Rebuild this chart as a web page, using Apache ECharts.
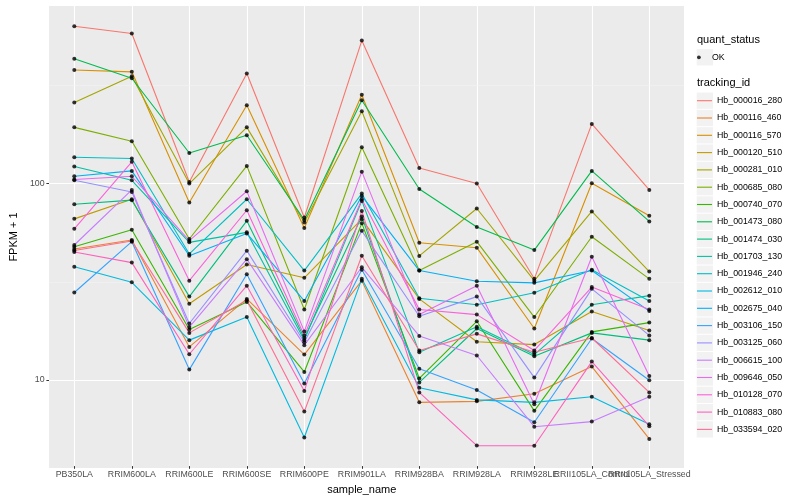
<!DOCTYPE html>
<html><head><meta charset="utf-8">
<script src="https://cdn.jsdelivr.net/npm/echarts@6/dist/echarts.min.js"></script>
<style>html,body{margin:0;padding:0;background:#fff}#c{width:800px;height:500px}</style>
</head><body><div id="c"></div>
<script>
const categories = ['PB350LA','RRIM600LA','RRIM600LE','RRIM600SE','RRIM600PE','RRIM901LA','RRIM928BA','RRIM928LA','RRIM928LE','RRII105LA_Control','RRII105LA_Stressed'];
const trackingIds = ['Hb_000016_280','Hb_000116_460','Hb_000116_570','Hb_000120_510','Hb_000281_010','Hb_000685_080','Hb_000740_070','Hb_001473_080','Hb_001474_030','Hb_001703_130','Hb_001946_240','Hb_002612_010','Hb_002675_040','Hb_003106_150','Hb_003125_060','Hb_006615_100','Hb_009646_050','Hb_010128_070','Hb_010883_080','Hb_033594_020'];

// FPKM + 1 per sample, one array per tracking_id
const Hb_000016_280 = [631, 579, 101, 362, 66.5, 533, 119, 99.1, 32.3, 200, 91.9];
const Hb_000116_460 = [45.9, 51.0, 14.5, 25.5, 13.25, 31.6, 7.55, 7.64, 8.36, 11.5, 4.91];
const Hb_000116_570 = [377, 369, 79.3, 249, 58.7, 282, 49.4, 46.6, 18.0, 99.4, 67.8];
const Hb_000120_510 = [65.4, 82.4, 24.1, 38.2, 32.7, 65.2, 25.5, 15.4, 14.9, 22.0, 17.6];
const Hb_000281_010 = [257, 350, 99.1, 192, 62.7, 232, 42.3, 73.9, 31.6, 71.4, 35.2];
const Hb_000685_080 = [192, 163, 51.6, 122, 22.5, 152, 35.6, 50.0, 20.6, 53.0, 32.3];
const Hb_000740_070 = [47.1, 57.5, 17.8, 24.6, 10.8, 62.2, 10.0, 19.6, 6.83, 17.3, 19.3];
const Hb_001473_080 = [430, 342, 142, 175, 64.5, 264, 93.0, 59.4, 45.3, 115, 63.5];
const Hb_001474_030 = [77.7, 81.5, 26.2, 63.9, 16.1, 67.3, 9.54, 18.0, 13.0, 17.1, 15.7];
const Hb_001703_130 = [121, 103, 49.6, 55.8, 15.7, 80.8, 13.6, 18.4, 13.25, 23.8, 26.5];
const Hb_001946_240 = [135, 133, 43.3, 82.4, 35.6, 88.1, 25.7, 23.8, 27.4, 35.9, 24.9];
const Hb_002612_010 = [37.2, 31.0, 15.7, 20.6, 4.99, 32.3, 8.97, 7.77, 7.55, 8.07, 5.83];
const Hb_002675_040 = [108, 115, 42.4, 55.1, 24.9, 85.7, 35.6, 31.4, 30.8, 35.6, 22.1];
const Hb_003106_150 = [27.5, 50.0, 11.1, 34.1, 9.43, 35.9, 11.2, 8.74, 5.97, 16.0, 9.80];
const Hb_003125_060 = [103, 89.8, 19.1, 45.0, 15.3, 56.8, 20.8, 26.2, 10.1, 28.7, 16.6];
const Hb_006615_100 = [48.1, 91.9, 18.3, 40.7, 14.8, 37.0, 16.5, 13.1, 5.67, 6.02, 8.07];
const Hb_009646_050 = [104, 108, 50.6, 90.5, 17.4, 114, 21.2, 29.8, 7.38, 41.9, 10.3];
const Hb_010128_070 = [58.2, 128, 31.6, 72.4, 16.6, 82.4, 22.5, 21.2, 13.9, 29.3, 22.5];
const Hb_010883_080 = [44.3, 39.1, 13.3, 29.8, 8.62, 71.8, 8.49, 4.54, 4.53, 12.2, 5.70];
const Hb_033594_020 = [45.1, 50.4, 17.1, 25.1, 6.77, 42.4, 13.9, 16.9, 13.6, 16.1, 8.49];

const seriesValues = [Hb_000016_280, Hb_000116_460, Hb_000116_570, Hb_000120_510, Hb_000281_010, Hb_000685_080, Hb_000740_070, Hb_001473_080, Hb_001474_030, Hb_001703_130, Hb_001946_240, Hb_002612_010, Hb_002675_040, Hb_003106_150, Hb_003125_060, Hb_006615_100, Hb_009646_050, Hb_010128_070, Hb_010883_080, Hb_033594_020];

const yMajorBreaks = [10, 100];
const yMinorBreaks = [31.62, 316.2];
const quantStatus = 'OK';

// styles
const colors = ['#F8766D','#EA8331','#D89000','#C09B00','#A3A500','#7CAE00','#39B600','#00BB4E','#00BF7D','#00C1A3','#00BFC4','#00BAE0','#00B0F6','#35A2FF','#9590FF','#C77CFF','#E76BF3','#FA62DB','#FF62BC','#FF6C91'];
const FONT = '"Liberation Sans", Arial, sans-serif';
const yMin = 3.566, yMax = 800.6;
const legendLeft = 697, legendFirstY = 100.7, legendStep = 17.3;

const lineSeries = trackingIds.map((id, i) => ({
  name: id, type: 'line', xAxisIndex: 1, yAxisIndex: 1,
  data: seriesValues[i], symbol: 'none', showSymbol: false,
  lineStyle: { color: colors[i], width: 1.1 }, itemStyle: { color: colors[i] },
  emphasis: { disabled: true }, z: 2
}));
const pointData = [];
seriesValues.forEach(arr => arr.forEach((v, j) => pointData.push([j, v])));

const graphics = [
  { type: 'text', left: legendLeft, top: 34, style: { text: 'quant_status', fontSize: 11, fill: '#000', fontFamily: FONT } },
  { type: 'text', left: legendLeft, top: 77.5, style: { text: 'tracking_id', fontSize: 11, fill: '#000', fontFamily: FONT } },
  { type: 'rect', shape: { x: legendLeft - 0.3, y: 57.3 - 8.15, width: 16.3, height: 16.3 }, style: { fill: '#F2F2F2' }, z: 0 }
];
trackingIds.forEach((id, i) => {
  graphics.push({ type: 'rect', shape: { x: legendLeft - 0.3, y: legendFirstY + legendStep * i - 8.15, width: 16.3, height: 16.3 }, style: { fill: '#F2F2F2' }, z: 0 });
});

const gridLineSeries = (breaks, color, width) => ({
  type: 'line', name: '_grid', xAxisIndex: 0, yAxisIndex: 0, data: [], silent: true,
  markLine: { silent: true, symbol: 'none', z: 1, animation: false,
    label: { show: false }, emphasis: { disabled: true },
    lineStyle: { color: color, width: width, type: 'solid' },
    data: breaks.map(v => ({ yAxis: v })) }
});

const option = {
  animation: false,
  backgroundColor: '#ffffff',
  textStyle: { fontFamily: FONT },
  grid: [
    { left: 40, right: 116, top: 6, bottom: 32, show: true, backgroundColor: '#EBEBEB', borderWidth: 0 },
    { left: 74.3, right: 150.7, top: 6, bottom: 32 }
  ],
  xAxis: [
    { gridIndex: 0, type: 'value', min: 0, max: 1, show: false },
    { gridIndex: 1, type: 'category', data: categories, boundaryGap: false,
      axisLine: { show: false },
      axisTick: { show: true, length: 2.7, lineStyle: { color: '#333333', width: 1 } },
      axisLabel: { interval: 0, color: '#4D4D4D', fontSize: 8.8, margin: 4, fontFamily: FONT },
      splitLine: { show: true, lineStyle: { color: '#ffffff', width: 1.1 } },
      name: 'sample_name', nameLocation: 'middle', nameGap: 13.5,
      nameTextStyle: { color: '#000', fontSize: 11, fontFamily: FONT } }
  ],
  yAxis: [
    { gridIndex: 0, type: 'log', logBase: 10, min: yMin, max: yMax,
      axisLine: { show: false },
      axisTick: { show: true, length: 2.7, lineStyle: { color: '#333333' } },
      axisLabel: { color: '#4D4D4D', fontSize: 8.8, margin: 4.5, showMinLabel: false, showMaxLabel: false, fontFamily: FONT },
      splitLine: { show: false },
      name: 'FPKM + 1', nameLocation: 'middle', nameGap: 21, nameRotate: 90,
      nameTextStyle: { color: '#000', fontSize: 11, fontFamily: FONT } },
    { gridIndex: 1, type: 'log', logBase: 10, min: yMin, max: yMax, show: false }
  ],
  legend: [
    { data: trackingIds.map((id, i) => ({ name: id, itemStyle: { color: colors[i] } })),
      orient: 'vertical', left: legendLeft, top: legendFirstY - 8.65, padding: 0, itemGap: 0,
      itemWidth: 15, itemHeight: 1.1, icon: 'rect', selectedMode: false,
      textStyle: { fontSize: 8.8, color: '#000', lineHeight: 17.3, fontFamily: FONT } },
    { data: [{ name: quantStatus, icon: 'circle', itemStyle: { color: '#000' } }],
      orient: 'vertical', left: legendLeft, top: 57.3 - 8.65, padding: 0, itemGap: 0,
      itemWidth: 16, itemHeight: 3.8, selectedMode: false,
      textStyle: { fontSize: 8.8, color: '#000', lineHeight: 17.3, fontFamily: FONT } }
  ],
  graphic: graphics,
  series: [
    gridLineSeries(yMinorBreaks, '#F4F4F4', 0.6),
    gridLineSeries(yMajorBreaks, '#FFFFFF', 1.1)
  ].concat(lineSeries).concat([
    { type: 'scatter', name: quantStatus, xAxisIndex: 1, yAxisIndex: 1, data: pointData,
      symbol: 'circle', symbolSize: 4, itemStyle: { color: '#000' }, emphasis: { disabled: true }, z: 3 }
  ])
};
const chart = echarts.init(document.getElementById('c'), null, { renderer: 'canvas', width: 800, height: 500 });
chart.setOption(option);
</script></body></html>
